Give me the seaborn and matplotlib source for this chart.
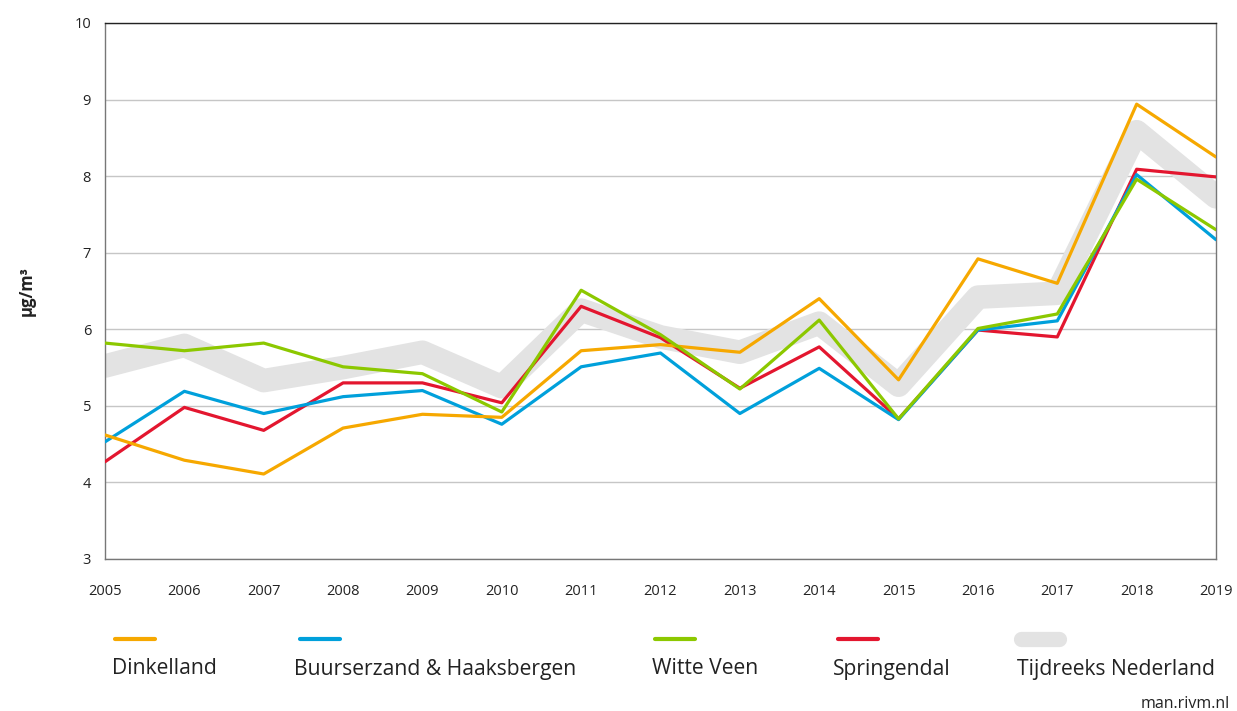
import pandas as pd
import numpy as np
import matplotlib.pyplot as plt
import seaborn as sns
from matplotlib.lines import Line2D

# data (µg/m3 per year)
years = list(range(2005, 2020))
dinkelland = [4.62, 4.29, 4.11, 4.71, 4.89, 4.85, 5.72, 5.80, 5.70, 6.40, 5.34, 6.92, 6.60, 8.94, 8.25]
buurserzand = [4.53, 5.19, 4.90, 5.12, 5.20, 4.76, 5.51, 5.69, 4.90, 5.49, 4.82, 5.99, 6.11, 8.02, 7.17]
witte_veen = [5.82, 5.72, 5.82, 5.51, 5.42, 4.92, 6.51, 5.93, 5.22, 6.12, 4.83, 6.01, 6.20, 7.96, 7.30]
springendal = [4.27, 4.98, 4.68, 5.30, 5.30, 5.04, 6.30, 5.89, 5.23, 5.77, 4.83, 5.99, 5.90, 8.09, 7.99]
nederland = [5.52, 5.79, 5.33, 5.50, 5.70, 5.25, 6.25, 5.90, 5.70, 6.08, 5.27, 6.42, 6.47, 8.58, 7.73]

names = ["Dinkelland", "Buurserzand & Haaksbergen", "Witte Veen", "Springendal", "Tijdreeks Nederland"]
colors = ["#f6a800", "#00a0db", "#8cc800", "#e3162f", "#e3e3e3"]

df = pd.DataFrame({"jaar": years, names[0]: dinkelland, names[1]: buurserzand,
                   names[2]: witte_veen, names[3]: springendal, names[4]: nederland})

sns.set_style("white")
plt.rcParams['font.family'] = ['Open Sans', 'DejaVu Sans']

fig = plt.figure(figsize=(12.37, 7.11), dpi=100)
ax = fig.add_axes([105 / 1237, 1 - 559 / 711, (1216 - 105) / 1237, (559 - 23) / 711])

# grey national series first, thick band
sns.lineplot(data=df, x="jaar", y=names[4], ax=ax, color=colors[4], linewidth=17,
             solid_capstyle="round", solid_joinstyle="round", zorder=2)
# coloured series on top
for i in [3, 1, 0, 2]:
    sns.lineplot(data=df, x="jaar", y=names[i], ax=ax, color=colors[i], linewidth=2.3, zorder=3)

ax.set_xlim(2005, 2019)
ax.set_ylim(3, 10)
ax.set_xticks(years)
ax.set_xticklabels([str(y) for y in years])
ax.set_yticks(range(3, 11))
ax.yaxis.grid(True, color="#c6c6c6", linewidth=1.0, zorder=1)
ax.set_axisbelow(True)

for side in ["left", "right", "bottom"]:
    ax.spines[side].set_color("#777777")
    ax.spines[side].set_linewidth(1.0)
ax.spines["top"].set_color("#222222")
ax.spines["top"].set_linewidth(1.0)

ax.tick_params(axis="y", length=6, width=1, color="#c6c6c6", labelsize=10.5, pad=4, labelcolor="#222222")
ax.tick_params(axis="x", length=6, width=1, color="#777777", labelsize=10.5, pad=12, labelcolor="#222222")

ax.set_xlabel("")
ax.set_ylabel("µg/m³", fontsize=12, fontweight="bold", labelpad=28, color="#222222")

# legend: swatches above the labels
swatch_x = [115, 300, 655, 838, 1021]
label_x = [112, 294, 652, 833, 1017]
for i, name in enumerate(names):
    x0 = swatch_x[i] / 1237
    if i < 4:
        x1 = (swatch_x[i] + 40) / 1237
        fig.add_artist(Line2D([x0, x1], [1 - 639 / 711] * 2, color=colors[i], linewidth=3,
                              solid_capstyle="round", transform=fig.transFigure))
    else:
        x1 = (swatch_x[i] + 38) / 1237
        fig.add_artist(Line2D([x0, x1], [1 - 639 / 711] * 2, color=colors[i], linewidth=11,
                              solid_capstyle="round", transform=fig.transFigure))
    fig.text(label_x[i] / 1237, 1 - 669 / 711, name, fontsize=15.2, va="center", ha="left", color="#222222")

fig.text(1230 / 1237, 1 - 704 / 711, "man.rivm.nl", fontsize=11.5, ha="right", va="center", color="#222222")

fig.savefig("out.png", dpi=100)
